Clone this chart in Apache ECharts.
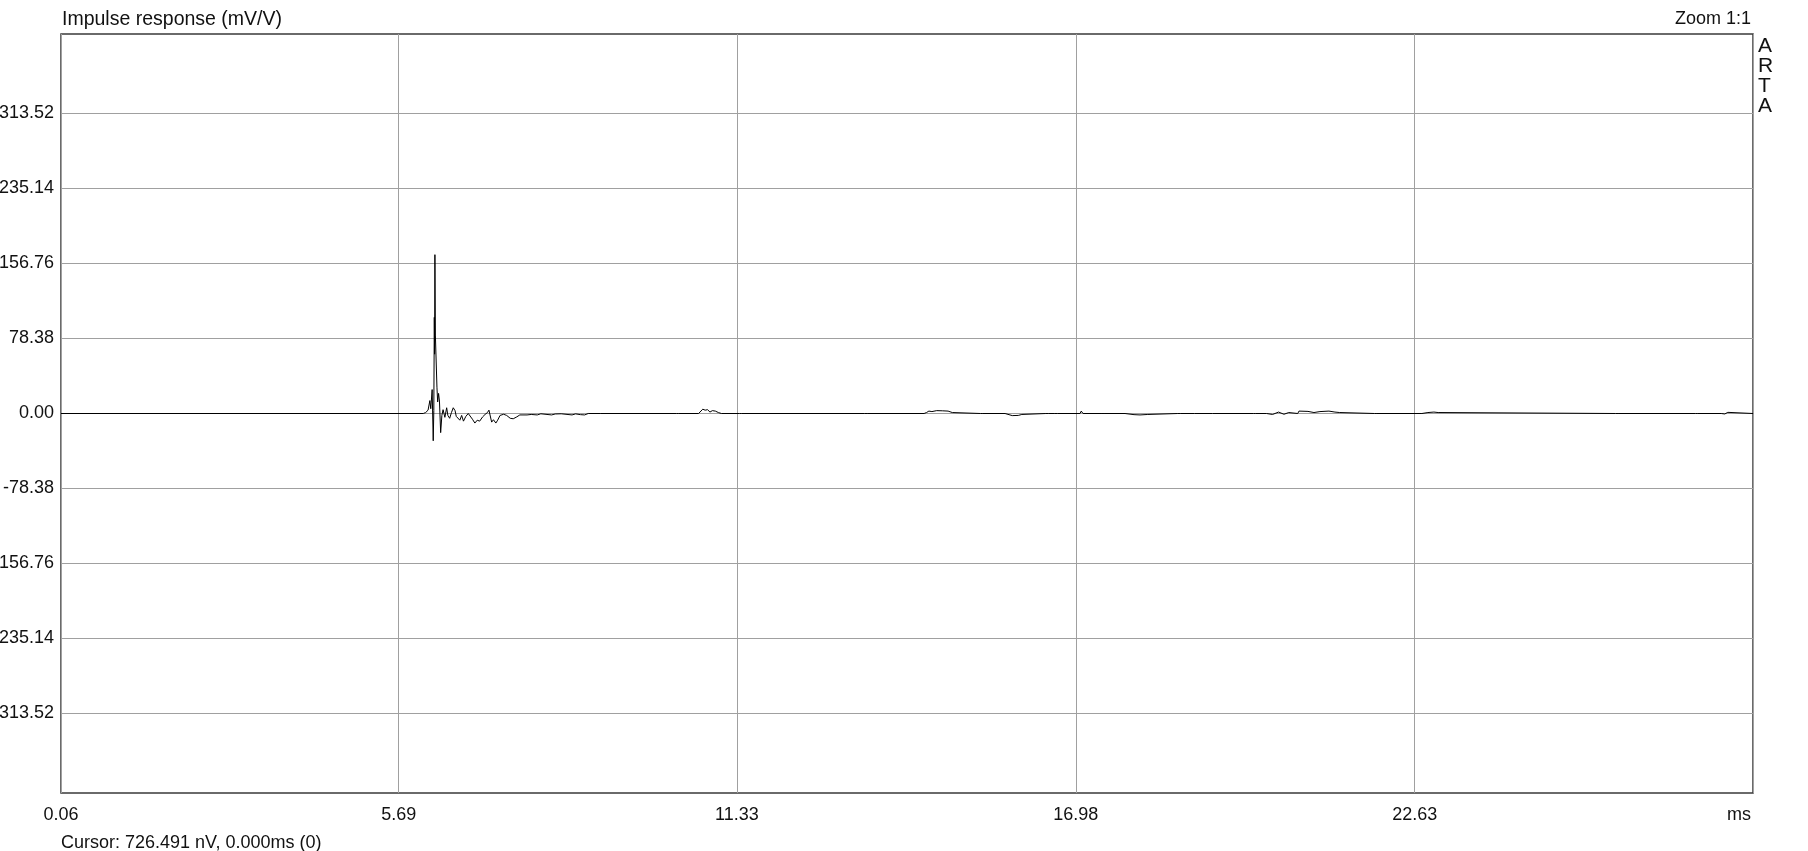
<!DOCTYPE html>
<html><head><meta charset="utf-8">
<script src="https://cdn.jsdelivr.net/npm/echarts@6/dist/echarts.min.js"></script>
<style>html,body{margin:0;padding:0;background:#fff}#c{width:1808px;height:851px}</style>
</head><body><div id="c"></div>
<script>
// Impulse response samples: time (ms) and value (mV/V)
const timeMs = [
  0.06, 6.10, 6.14, 6.16, 6.18, 6.195, 6.21, 6.225, 6.248, 6.266, 6.276, 6.284, 6.289, 6.294, 6.302, 6.312,
  6.328, 6.34, 6.355, 6.37, 6.39, 6.41, 6.43, 6.46, 6.49, 6.51, 6.54, 6.57, 6.60, 6.63, 6.65, 6.68,
  6.71, 6.74, 6.77, 6.81, 6.85, 6.88, 6.92, 6.96, 7.00, 7.04, 7.09, 7.13, 7.17, 7.195, 7.24, 7.27,
  7.31, 7.34, 7.38, 7.44, 7.49, 7.55, 7.60, 7.66, 7.71, 7.83, 7.90, 8.00, 8.06, 8.24, 8.30, 8.40,
  8.58, 8.64, 8.72, 8.79, 8.85, 9.05,
  10.32, 10.34, 10.36,
  10.69, 10.72, 10.76, 10.80, 10.84, 10.88, 10.92, 10.97, 11.02, 11.07,
  11.37, 11.39, 11.41,
  13.46, 13.48, 13.50,
  14.45, 14.49, 14.53, 14.58, 14.66, 14.76, 14.85, 14.92, 14.95,
  15.39, 15.41, 15.43,
  15.80, 15.83, 15.92, 16.02, 16.08, 16.11,
  16.48, 16.50, 16.52,
  16.63, 16.65, 16.67,
  17.05, 17.07, 17.10,
  17.40, 17.42, 17.45,
  17.80, 17.83, 17.95, 18.05, 18.18, 18.21,
  18.68, 18.70, 18.72,
  18.96, 18.98, 19.00,
  19.26, 19.28, 19.30,
  19.94, 19.96, 19.98,
  20.16, 20.18, 20.26, 20.36, 20.45, 20.53, 20.56,
  20.68, 20.70, 20.85, 20.95, 21.05, 21.20, 21.30, 21.38, 21.41,
  21.96, 21.98, 22.00,
  22.75, 22.77, 22.85, 22.95, 23.02, 23.05,
  25.98, 26.00, 26.02,
  27.31, 27.33, 27.35,
  27.74, 27.76, 27.80, 27.85, 27.88,
  28.27
];
const responseMv = [
  0, 0, 1.0, 0.5, 3.5, 2.0, 13.5, 5.0, 25.0, -28.5, 3.0, 100.5, 62.0, 166.0, 82.0, 80.0,
  27.5, 12.0, 21.0, 13.0, -20.0, -2.0, 4.0, -4.0, 6.0, -2.0, -5.0, 1.0, 6.0, 3.0, -3.0, -1.0,
  -7.0, -2.0, -8.0, -3.0, 0.0, -2.0, -6.0, -10.0, -7.0, -8.0, -3.5, -1.0, 1.0, 3.5, -9.0, -6.5,
  -10.0, -7.0, -2.0, -0.8, -2.0, -5.0, -5.5, -3.5, -1.5, -1.5, -1.0, -1.5, -0.3, -1.5, -0.5, -0.3,
  -1.5, -0.4, -1.2, -1.5, 0, 0,
  0, -1.2, 0,
  0, 2.0, 4.5, 3.5, 4.0, 1.5, 3.0, 2.5, 1.0, 0,
  0, 1.2, 0,
  0, -0.8, 0,
  0, 1.0, 2.5, 2.0, 3.0, 2.8, 2.5, 1.0, 0,
  0, 1.0, 0,
  0, -2.0, -2.2, -2.0, -1.0, 0,
  0, -1.0, 0,
  0, -1.0, 0,
  0, 2.5, 0,
  0, 1.5, 0,
  0, -1.5, -1.2, -1.5, -1.0, 0,
  0, -1.0, 0,
  0, 1.2, 0,
  0, -1.0, 0,
  0, 1.5, 0,
  0, 2.0, -1.0, 1.5, -0.8, 1.0, 0,
  0, 2.5, 2.2, 1.0, 2.0, 2.5, 1.5, 1.0, 0,
  0, -1.0, 0,
  0, 2.0, 1.0, 1.5, 1.0, 0,
  0, -1.0, 0,
  0, -0.8, 0,
  0, 1.5, -0.5, 1.2, 0,
  0
];
const yTickValues = [-313.52, -235.14, -156.76, -78.38, 0, 78.38, 156.76, 235.14, 313.52];
const xTickValues = [0.06, 5.69, 11.33, 16.98, 22.63, 28.27];
const xTickLabels = ['0.06', '5.69', '11.33', '16.98', '22.63', 'ms'];

const FONT = "'Liberation Sans', Arial, sans-serif";
const TXT = '#111';
const chart = echarts.init(document.getElementById('c'), null, {renderer: 'canvas'});
const data = timeMs.map((t, i) => [t, responseMv[i]]);

chart.setOption({
  animation: false,
  backgroundColor: '#fff',
  textStyle: {fontFamily: FONT},
  title: [
    {text: 'Impulse response (mV/V)', left: 62, top: 10, padding: 0,
     textStyle: {fontSize: 19.5, fontWeight: 'normal', color: TXT, fontFamily: FONT}},
    {text: 'Zoom 1:1', right: 57, top: 10, padding: 0,
     textStyle: {fontSize: 18, fontWeight: 'normal', color: TXT, fontFamily: FONT}},
    {text: 'A\nR\nT\nA', left: 1758, top: 36, padding: 0,
     textStyle: {fontSize: 21, lineHeight: 20, fontWeight: 'normal', color: TXT, fontFamily: FONT}},
    {text: 'Cursor: 726.491 nV, 0.000ms (0)', left: 61, top: 834, padding: 0,
     textStyle: {fontSize: 18, fontWeight: 'normal', color: TXT, fontFamily: FONT}}
  ],
  grid: {left: 61, right: 55, top: 34, bottom: 58, show: true,
         containLabel: false, outerBoundsMode: 'none',
         borderColor: '#3a3a3a', borderWidth: 1.5, backgroundColor: 'transparent'},
  xAxis: {
    type: 'value', min: 0.06, max: 28.27,
    axisLine: {show: false},
    axisTick: {show: false, customValues: xTickValues},
    axisLabel: {
      customValues: xTickValues, margin: 13, fontSize: 18, color: TXT, fontFamily: FONT,
      formatter: function (v) {
        let idx = 0, best = Infinity;
        xTickValues.forEach((x, i) => { const d = Math.abs(x - v); if (d < best) { best = d; idx = i; } });
        return idx === xTickValues.length - 1 ? '{u|' + xTickLabels[idx] + '}' : xTickLabels[idx];
      },
      rich: {u: {fontSize: 18, color: TXT, fontFamily: FONT, padding: [0, 28, 0, 0]}}
    },
    splitLine: {show: true, lineStyle: {color: '#a0a0a0', width: 1}}
  },
  yAxis: {
    type: 'value', min: -396.6, max: 396.6,
    axisLine: {show: false},
    axisTick: {show: false, customValues: yTickValues},
    axisLabel: {
      customValues: yTickValues, margin: 7, fontSize: 18, color: TXT, fontFamily: FONT,
      formatter: v => v.toFixed(2)
    },
    splitLine: {show: true, lineStyle: {color: '#a0a0a0', width: 1}}
  },
  series: [{
    type: 'line', data: data, showSymbol: false, silent: true,
    lineStyle: {color: '#000', width: 1}, z: 3
  }]
});
</script>
</body></html>
